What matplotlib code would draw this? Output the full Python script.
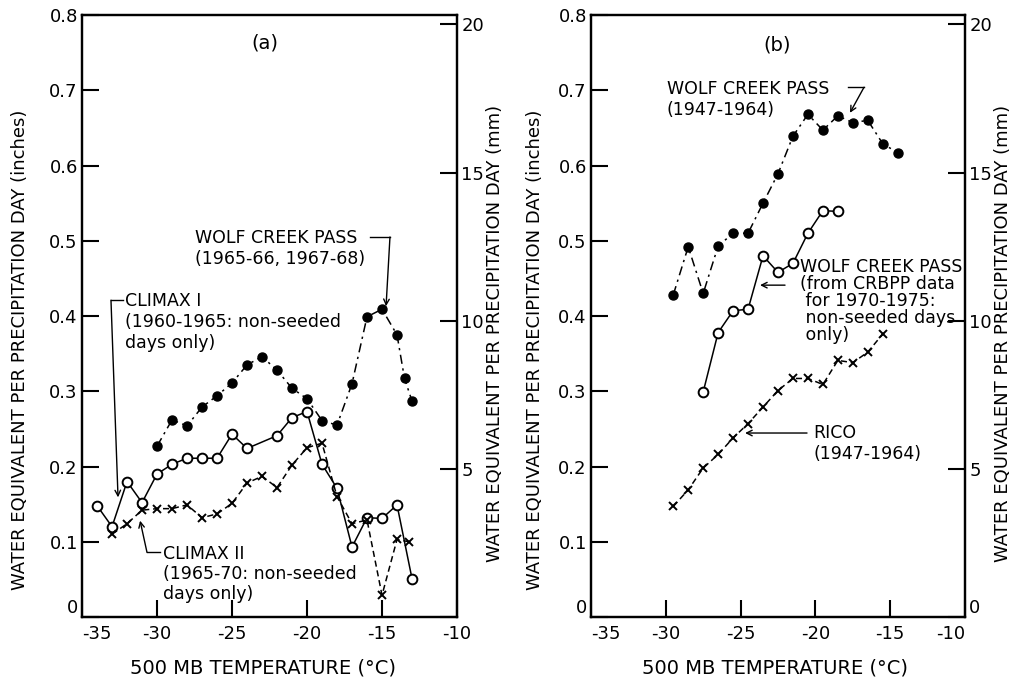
import numpy as np
import matplotlib
matplotlib.use('Agg')
import matplotlib.pyplot as plt

plt.rcParams['font.family'] = 'DejaVu Sans'
plt.rcParams['axes.unicode_minus'] = False

# panel (a)
a_wcp_t = [-30, -29, -28, -27, -26, -25, -24, -23, -22, -21, -20, -19, -18, -17, -16, -15, -14, -13.5, -13]
a_wcp_v = [0.227, 0.262, 0.254, 0.279, 0.294, 0.311, 0.335, 0.346, 0.328, 0.304, 0.290, 0.261, 0.255,
           0.310, 0.399, 0.409, 0.375, 0.317, 0.287]
a_c1_t = [-34, -33, -32, -31, -30, -29, -28, -27, -26, -25, -24, -22, -21, -20, -19, -18, -17, -16, -15, -14, -13]
a_c1_v = [0.148, 0.120, 0.180, 0.152, 0.190, 0.203, 0.211, 0.211, 0.211, 0.243, 0.224, 0.241, 0.265,
          0.273, 0.203, 0.171, 0.093, 0.132, 0.131, 0.149, 0.051]
a_c2_t = [-33, -32, -31, -30, -29, -28, -27, -26, -25, -24, -23, -22, -21, -20, -19, -18, -17, -16, -15, -14, -13.2]
a_c2_v = [0.110, 0.124, 0.142, 0.144, 0.144, 0.149, 0.132, 0.137, 0.151, 0.178, 0.187, 0.172, 0.202,
          0.225, 0.231, 0.160, 0.124, 0.129, 0.029, 0.103, 0.100]

# panel (b)
b_wcp_t = [-29.5, -28.5, -27.5, -26.5, -25.5, -24.5, -23.5, -22.5, -21.5, -20.5, -19.5, -18.5, -17.5, -16.5, -15.5, -14.5]
b_wcp_v = [0.428, 0.492, 0.430, 0.493, 0.510, 0.510, 0.550, 0.589, 0.639, 0.668, 0.647, 0.666, 0.657,
           0.660, 0.629, 0.617]
b_crb_t = [-27.5, -26.5, -25.5, -24.5, -23.5, -22.5, -21.5, -20.5, -19.5, -18.5]
b_crb_v = [0.299, 0.378, 0.407, 0.409, 0.480, 0.458, 0.470, 0.510, 0.540, 0.539]
b_rico_t = [-29.5, -28.5, -27.5, -26.5, -25.5, -24.5, -23.5, -22.5, -21.5, -20.5, -19.5, -18.5, -17.5, -16.5, -15.5]
b_rico_v = [0.147, 0.169, 0.198, 0.216, 0.238, 0.257, 0.279, 0.301, 0.317, 0.317, 0.309, 0.341, 0.338,
            0.352, 0.376]

x_ticks = [-35, -30, -25, -20, -15, -10]
y_ticks = [0, 0.1, 0.2, 0.3, 0.4, 0.5, 0.6, 0.7, 0.8]
y_labels = ['0', '0.1', '0.2', '0.3', '0.4', '0.5', '0.6', '0.7', '0.8']
mm_ticks = [0, 5, 10, 15, 20]

DASHDOT = (0, (6, 3, 1.5, 3))
DASHED = (0, (4, 2.5))
FS = 12.5

fig = plt.figure(figsize=(10.14, 6.82), dpi=100)
ax_a = fig.add_axes([0.0809, 0.0953, 0.3698, 0.8827])
ax_b = fig.add_axes([0.5828, 0.0953, 0.3689, 0.8827])


def setup(ax, mm_labels, last_right=False):
    ax.set_xlim(-35, -10)
    ax.set_ylim(0, 0.8)
    ax.set_xticks(x_ticks)
    ax.set_xticklabels([str(t) for t in x_ticks], fontsize=13)
    ax.set_yticks(y_ticks)
    ax.set_yticklabels(y_labels, fontsize=13)
    ax.tick_params(direction='in', length=12, width=1.5, pad=3)
    ax.tick_params(axis='x', pad=6)
    xl = ax.get_xticklabels()
    xl[0].set_horizontalalignment('left')
    if last_right:
        xl[-1].set_horizontalalignment('right')
    ax.get_yticklabels()[0].set_verticalalignment('bottom')
    for s in ax.spines.values():
        s.set_linewidth(1.6)
    ax2 = ax.twinx()
    ax2.set_ylim(0, 0.8 * 25.4)
    ax2.set_yticks(mm_ticks)
    ax2.set_yticklabels(mm_labels, fontsize=13)
    ax2.tick_params(direction='in', length=12, width=1.5, pad=3)
    ax2.get_yticklabels()[0].set_verticalalignment('bottom')
    for s in ax2.spines.values():
        s.set_linewidth(1.6)
    return ax2


setup(ax_a, ['', '5', '10', '15', '20'])
setup(ax_b, ['0', '5', '10', '15', '20'], last_right=True)

# (a) curves
ax_a.plot(a_wcp_t, a_wcp_v, color='black', linestyle=DASHDOT, linewidth=1.1,
          marker='o', markersize=6.5, markerfacecolor='black')
ax_a.plot(a_c1_t, a_c1_v, color='black', linestyle='-', linewidth=1.1,
          marker='o', markersize=7, markerfacecolor='white', markeredgewidth=1.4)
ax_a.plot(a_c2_t, a_c2_v, color='black', linestyle=DASHED, linewidth=1.1,
          marker='x', markersize=6, markeredgewidth=1.4)

# (b) curves
ax_b.plot(b_wcp_t, b_wcp_v, color='black', linestyle=DASHDOT, linewidth=1.1,
          marker='o', markersize=6.5, markerfacecolor='black')
ax_b.plot(b_crb_t, b_crb_v, color='black', linestyle='-', linewidth=1.1,
          marker='o', markersize=7, markerfacecolor='white', markeredgewidth=1.4)
ax_b.plot(b_rico_t, b_rico_v, color='black', linestyle=DASHED, linewidth=1.1,
          marker='x', markersize=6, markeredgewidth=1.4)

arrow = dict(arrowstyle='->', color='black', lw=1.0, shrinkA=0, shrinkB=0)

# (a) annotations
ax_a.text(-22.8, 0.763, '(a)', fontsize=14, ha='center', va='center')
ax_a.text(-27.47, 0.490, 'WOLF CREEK PASS\n(1965-66, 1967-68)', fontsize=FS,
          ha='left', va='center', linespacing=1.25)
ax_a.plot([-15.8, -14.47], [0.505, 0.505], color='black', lw=1.0)
ax_a.annotate('', xy=(-14.73, 0.413), xytext=(-14.47, 0.505), arrowprops=arrow)

ax_a.text(-32.13, 0.392, 'CLIMAX I\n(1960-1965: non-seeded\ndays only)', fontsize=FS,
          ha='left', va='center', linespacing=1.2)
ax_a.plot([-32.27, -33.07], [0.421, 0.421], color='black', lw=1.0)
ax_a.annotate('', xy=(-32.6, 0.159), xytext=(-33.07, 0.421), arrowprops=arrow)

ax_a.text(-29.6, 0.057, 'CLIMAX II\n(1965-70: non-seeded\ndays only)', fontsize=FS,
          ha='left', va='center', linespacing=1.15)
ax_a.plot([-29.8, -30.67], [0.086, 0.086], color='black', lw=1.0)
ax_a.annotate('', xy=(-31.13, 0.128), xytext=(-30.67, 0.086), arrowprops=arrow)

# (b) annotations
ax_b.text(-22.57, 0.760, '(b)', fontsize=14, ha='center', va='center')
ax_b.text(-29.92, 0.688, 'WOLF CREEK PASS\n(1947-1964)', fontsize=FS,
          ha='left', va='center', linespacing=1.25)
ax_b.plot([-17.82, -16.75], [0.704, 0.704], color='black', lw=1.0)
ax_b.annotate('', xy=(-17.69, 0.670), xytext=(-16.75, 0.704), arrowprops=arrow)

ax_b.text(-21.03, 0.420, 'WOLF CREEK PASS\n(from CRBPP data\n for 1970-1975:\n non-seeded days\n only)',
          fontsize=FS, ha='left', va='center', linespacing=0.92)
ax_b.annotate('', xy=(-23.7, 0.441), xytext=(-22.03, 0.441), arrowprops=arrow)

ax_b.text(-20.16, 0.231, 'RICO\n(1947-1964)', fontsize=FS, ha='left', va='center', linespacing=1.2)
ax_b.annotate('', xy=(-24.7, 0.2445), xytext=(-20.56, 0.2445), arrowprops=arrow)

# axis titles
ylab_in = 'WATER EQUIVALENT PER PRECIPITATION DAY (inches)'
ylab_mm = 'WATER EQUIVALENT PER PRECIPITATION DAY (mm)'
xlab = '500 MB TEMPERATURE (\u00b0C)'
fig.text(20 / 1014, 1 - 350 / 682, ylab_in, rotation=90, ha='center', va='center', fontsize=13)
fig.text(495 / 1014, 1 - 333 / 682, ylab_mm, rotation=90, ha='center', va='center', fontsize=13)
fig.text(535 / 1014, 1 - 350 / 682, ylab_in, rotation=90, ha='center', va='center', fontsize=13)
fig.text(1003 / 1014, 1 - 333 / 682, ylab_mm, rotation=90, ha='center', va='center', fontsize=13)
fig.text(263 / 1014, 1 - 668 / 682, xlab, ha='center', va='center', fontsize=14)
fig.text(775 / 1014, 1 - 668 / 682, xlab, ha='center', va='center', fontsize=14)

fig.savefig('out.png', dpi=100)
